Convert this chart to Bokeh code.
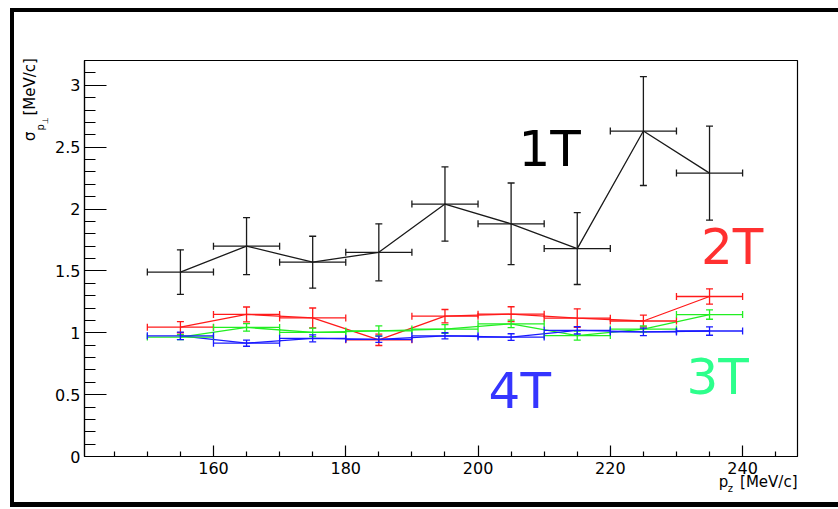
import math
from bokeh.plotting import figure
from bokeh.models import Whisker, TeeHead, ColumnDataSource, Label, FixedTicker, Range1d
from bokeh.embed import file_html
from bokeh.resources import INLINE

# ---- data ----
pz = [155, 165, 175, 185, 195, 205, 215, 225, 235]
pz_err = [5, 5, 5, 5, 5, 5, 5, 5, 5]

sig_1T = [1.49, 1.70, 1.57, 1.65, 2.04, 1.88, 1.68, 2.63, 2.29]
err_1T = [0.18, 0.23, 0.21, 0.23, 0.30, 0.33, 0.29, 0.44, 0.38]
sig_2T = [1.045, 1.148, 1.12, 0.943, 1.134, 1.15, 1.118, 1.095, 1.293]
err_2T = [0.045, 0.06, 0.08, 0.046, 0.054, 0.06, 0.075, 0.048, 0.062]
sig_3T = [0.965, 1.043, 1.003, 1.015, 1.03, 1.072, 0.977, 1.03, 1.147]
err_3T = [0.02, 0.03, 0.035, 0.04, 0.035, 0.03, 0.036, 0.025, 0.038]
sig_4T = [0.975, 0.916, 0.955, 0.947, 0.975, 0.965, 1.02, 1.007, 1.014]
err_4T = [0.03, 0.025, 0.028, 0.025, 0.025, 0.027, 0.03, 0.03, 0.034]

x_major = [160, 180, 200, 220, 240]
x_minor = [145, 150, 155, 165, 170, 175, 185, 190, 195, 205, 210, 215, 225, 230, 235, 245]
y_major = [0, 0.5, 1, 1.5, 2, 2.5, 3]
y_minor = [0.1, 0.2, 0.3, 0.4, 0.6, 0.7, 0.8, 0.9, 1.1, 1.2, 1.3, 1.4, 1.6, 1.7, 1.8, 1.9,
           2.1, 2.2, 2.3, 2.4, 2.6, 2.7, 2.8, 2.9, 3.1, 3.2]

series = [
    ("1T", sig_1T, err_1T, "#1a1a1a", "black", (206.1, 2.481)),
    ("2T", sig_2T, err_2T, "#ff1a1a", "#ff3030", (233.7, 1.689)),
    ("3T", sig_3T, err_3T, "#22ee22", "#2dff8c", (231.5, 0.646)),
    ("4T", sig_4T, err_4T, "#1a1aff", "#3535ff", (201.6, 0.529)),
]

FONT = "DejaVu Sans"

p = figure(width=824, height=490,
           x_range=Range1d(140.5, 248.3), y_range=Range1d(0, 3.2),
           output_backend="svg", toolbar_location=None,
           min_border_left=70, min_border_right=41,
           min_border_top=48, min_border_bottom=46)
p.styles = {"margin-left": "14px", "margin-top": "12px",
            "box-shadow": "0 0 0 4px black, 0 1px 0 4px black"}
p.background_fill_color = "white"
p.border_fill_color = "white"
p.grid.visible = False
p.outline_line_color = "black"
p.outline_line_width = 1.2

xa = p.xaxis[0]
xa.ticker = FixedTicker(ticks=x_major, minor_ticks=x_minor)
xa.major_tick_in = 11
xa.major_tick_out = 0
xa.minor_tick_in = 5
xa.minor_tick_out = 0
xa.major_label_standoff = 5

ya = p.yaxis[0]
ya.ticker = FixedTicker(ticks=y_major, minor_ticks=y_minor)
ya.major_tick_in = 22
ya.major_tick_out = 0
ya.minor_tick_in = 11
ya.minor_tick_out = 0
ya.major_label_standoff = 4
ya.major_label_overrides = {0: "0", 1: "1", 2: "2", 3: "3"}

for ax in (xa, ya):
    ax.axis_line_color = "black"
    ax.axis_line_width = 1.2
    ax.major_tick_line_color = "black"
    ax.minor_tick_line_color = "black"
    ax.major_tick_line_width = 1.2
    ax.minor_tick_line_width = 1.2
    ax.major_label_text_font = FONT
    ax.major_label_text_font_size = "16px"
    ax.major_label_text_color = "black"

for name, sig, err, lc, tc, pos in series:
    src = ColumnDataSource(dict(
        x=pz, y=sig,
        yl=[v - e for v, e in zip(sig, err)], yu=[v + e for v, e in zip(sig, err)],
        xl=[v - e for v, e in zip(pz, pz_err)], xu=[v + e for v, e in zip(pz, pz_err)],
    ))
    lw = 1.3
    p.add_layout(Whisker(source=src, base="x", lower="yl", upper="yu", dimension="height",
                         line_color=lc, line_width=lw, level="glyph",
                         lower_head=TeeHead(size=7, line_color=lc, line_width=lw),
                         upper_head=TeeHead(size=7, line_color=lc, line_width=lw)))
    p.add_layout(Whisker(source=src, base="y", lower="xl", upper="xu", dimension="width",
                         line_color=lc, line_width=lw, level="glyph",
                         lower_head=TeeHead(size=7, line_color=lc, line_width=lw),
                         upper_head=TeeHead(size=7, line_color=lc, line_width=lw)))
    p.line("x", "y", source=src, line_color=lc, line_width=lw)
    p.add_layout(Label(x=pos[0], y=pos[1], text=name, text_font=FONT,
                       text_font_size="50px", text_color=tc,
                       text_align="left", text_baseline="alphabetic"))


def title_piece(txt, x, y, fs, side, angle=0.0, align="left"):
    p.add_layout(Label(x=x, y=y, text=txt, angle=angle, text_font=FONT, text_font_size=fs,
                       text_color="black", text_align=align, text_baseline="alphabetic"),
                 side)


# y title: sigma_{p_perp} [MeV/c]  (placed in side panels so it is not clipped)
ang = math.pi / 2
title_piece("σ", 132.33, 2.549, "15px", "left", ang)
title_piece("[MeV/c]", 132.33, 2.755, "15px", "left", ang)
title_piece("p", 133.92, 2.634, "10px", "right", ang)
title_piece("⊥", 134.57, 2.686, "8px", "right", ang)

# x title: p_z [MeV/c]
title_piece("p", 236.38, -0.210, "15px", "above")
title_piece("z", 237.74, -0.259, "10px", "above")
title_piece("[MeV/c]", 248.3, -0.210, "15px", "below", align="right")

open("out.html", "w").write(file_html(p, INLINE))
